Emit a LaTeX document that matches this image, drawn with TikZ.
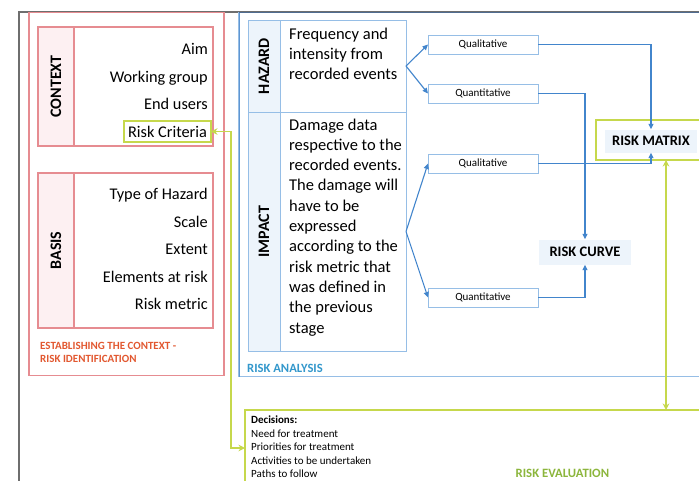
\documentclass[tikz,border=0pt]{standalone}
\usepackage{fontspec}
\setmainfont{Carlito}
\usetikzlibrary{arrows.meta,calc}
\definecolor{redline}{RGB}{230,140,145}
\definecolor{pinkfill}{RGB}{253,240,242}
\definecolor{blueline}{RGB}{150,190,230}
\definecolor{bluedark}{RGB}{95,150,210}
\definecolor{bluetop}{RGB}{80,108,145}
\definecolor{bluefill}{RGB}{237,244,251}
\definecolor{arrowblue}{RGB}{66,133,204}
\definecolor{greenline}{RGB}{198,216,76}
\definecolor{greentext}{RGB}{140,182,60}
\definecolor{orangetext}{RGB}{226,88,48}
\definecolor{tealtext}{RGB}{52,152,204}
\definecolor{framegray}{RGB}{110,110,110}
\begin{document}
\begin{tikzpicture}[x=1pt,y=-1pt,
  box/.style={draw, inner sep=0pt, outer sep=0pt},
  redbox/.style={box, draw=redline, line width=1.1pt},
  bluebox/.style={box, draw=blueline, line width=1pt},
  vlabel/.style={rotate=90, font=\bfseries\fontsize{16}{19}\selectfont},
  item/.style={anchor=base east, inner sep=0pt, font=\fontsize{16.3}{20}\selectfont},
  % multi-line texts are placed by the baseline of their last line
  bodytext/.style={anchor=base west, inner sep=0pt, align=left, font=\fontsize{16.5}{20.3}\selectfont},
  qbox/.style={bluebox, line width=0.8pt, minimum width=110, minimum height=19, font=\fontsize{11}{13}\selectfont},
  result/.style={fill=bluefill, inner sep=0pt, minimum width=92, font=\bfseries\fontsize{14.5}{17}\selectfont},
  fork/.style={draw=arrowblue, line width=1.1pt, -{Triangle[length=5.5pt,width=5pt]}},
  greenlink/.style={draw=greenline, line width=1.4pt, {Stealth[length=6.5pt,width=6.5pt]}-{Stealth[length=6.5pt,width=6.5pt]}},
  steplabel/.style={anchor=base west, inner sep=0pt, align=left}
]
\useasboundingbox (0,0) rectangle (699,480);
\fill[white] (0,0) rectangle (699,480);
\clip (0,0) rectangle (699,480);

% outer frame
\node[box, draw=framegray, line width=1.2pt, minimum width=760, minimum height=520, anchor=north west] (frame) at (19,12) {};

% establishing the context
\node[redbox, minimum width=195, minimum height=363, anchor=north west] (estab) at (29,12.5) {};

\node[redbox, minimum width=175, minimum height=119, anchor=north west] (ctx) at (38,27) {};
\node[redbox, fill=pinkfill, vlabel, minimum width=119, minimum height=36] (ctxlab) at (56,86.5) {CONTEXT};
\node[item] (aim) at (208,54.5) {Aim};
\node[item] (wgroup) at (208,82) {Working group};
\node[item] (users) at (208,109.5) {End users};
\node[box, draw=greenline, line width=1.2pt, minimum width=87, minimum height=21, font=\fontsize{16.3}{20}\selectfont] (crit) at (167.5,131.5) {Risk Criteria};

\node[redbox, minimum width=175, minimum height=155, anchor=north west] (basis) at (38,173) {};
\node[redbox, fill=pinkfill, vlabel, minimum width=155, minimum height=36] (basislab) at (56,250.5) {BASIS};
\node[item] (hazt) at (208,199.5) {Type of Hazard};
\node[item] (scale) at (208,227) {Scale};
\node[item] (extent) at (208,254.5) {Extent};
\node[item] (elem) at (208,282) {Elements at risk};
\node[item] (metric) at (208,309.5) {Risk metric};

\node[steplabel, text=orangetext, font=\bfseries\fontsize{11}{13.7}\selectfont] (establbl) at (40,362.7) {ESTABLISHING THE CONTEXT -\\RISK IDENTIFICATION};

% risk analysis
\node[bluebox, line width=1.4pt, minimum width=520, minimum height=364, anchor=north west] (ana) at (239,12.5) {};
\draw[bluedark, line width=1pt] (ana.north west) -- (ana.south west);
\draw[bluetop, line width=1.3pt] (ana.north west) -- (ana.north east);

\node[bluebox, fill=bluefill, vlabel, minimum width=92, minimum height=32] (hzlab) at (264,66) {HAZARD};
\node[bluebox, minimum width=126, minimum height=92, anchor=north west] (hzbody) at (280,20) {};
\node[bodytext] (hztxt) at (289,79.9) {Frequency and\\intensity from\\recorded events};

\node[bluebox, fill=bluefill, vlabel, minimum width=239, minimum height=32] (imlab) at (264,231.5) {IMPACT};
\node[bluebox, minimum width=126, minimum height=239, anchor=north west] (imbody) at (280,112) {};
\node[bodytext] (imtxt) at (289,333) {Damage data\\respective to the\\recorded events.\\The damage will\\have to be\\expressed\\according to the\\risk metric that\\was defined in\\the previous\\stage};

\node[qbox] (q1) at (483,44.5) {Qualitative};
\node[qbox] (q2) at (483,93.5) {Quantitative};
\node[qbox] (q3) at (483,163.5) {Qualitative};
\node[qbox] (q4) at (483,297.5) {Quantitative};

\draw[fork] (hzbody.east) -- (q1.west);
\draw[fork] (hzbody.east) -- (q2.west);
\draw[fork] (imbody.east) -- (q3.west);
\draw[fork] (imbody.east) -- (q4.west);

\node[box, draw=greenline, line width=1.3pt, fill=white, minimum width=140, minimum height=40] (mtxbox) at (666,140) {};
\node[result, minimum height=23] (mtx) at (651,141) {RISK MATRIX};
\node[result, minimum height=25] (curve) at (585,252) {RISK CURVE};

\draw[fork] (q1.east) -| (mtx.north);
\draw[fork] (q3.east) -| (mtx.south);
\draw[fork] (q2.east) -| (curve.north);
\draw[fork] (q4.east) -| (curve.south);

\node[steplabel, text=tealtext, font=\bfseries\fontsize{12.6}{15}\selectfont] (analbl) at (247,372) {RISK ANALYSIS};

% risk evaluation
\node[box, draw=greenline, line width=1.3pt, minimum width=520, minimum height=120, anchor=north west] (eval) at (245,410) {};
\coordinate (evalin) at ($(eval.west)+(0,-22)$);
\draw[greenlink] (mtxbox.south) -- (mtxbox.south |- eval.north);
\draw[greenlink] (crit.east) -- ++(20,0) |- (evalin);

\node[steplabel, font=\fontsize{11}{13.4}\selectfont] (evaltxt) at (251,477.5) {\textbf{Decisions:}\\Need for treatment\\Priorities for treatment\\Activities to be undertaken\\Paths to follow};
\node[steplabel, text=greentext, font=\bfseries\fontsize{12.7}{15}\selectfont] (evallbl) at (515.5,477) {RISK EVALUATION};
\end{tikzpicture}
\end{document}
